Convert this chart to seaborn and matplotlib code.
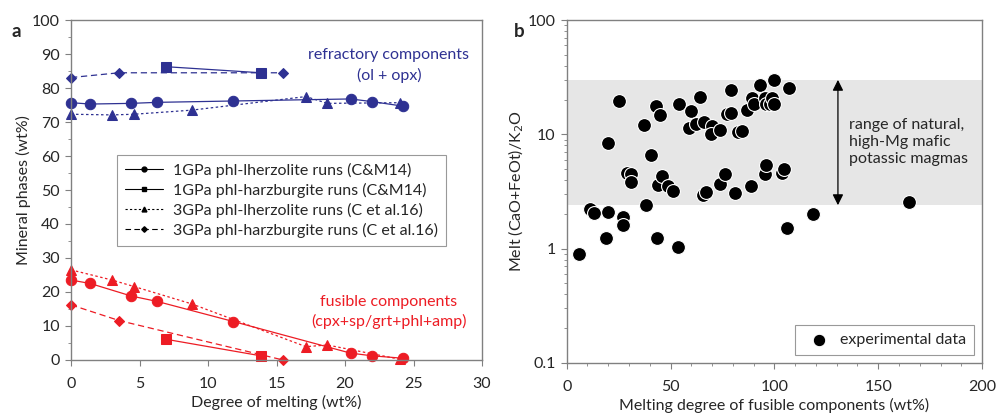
import numpy as np
import pandas as pd
import matplotlib
matplotlib.use("Agg")
import matplotlib.pyplot as plt
from matplotlib.lines import Line2D
from matplotlib.ticker import MultipleLocator, LogLocator, NullFormatter, FixedLocator
import seaborn as sns

# ---- panel a data: degree of melting (wt%) vs mineral phases (wt%)
lherz1_x = [0, 1.4, 4.4, 6.3, 11.85, 20.4, 22.0, 24.2]
lherz1_ref = [75.7, 75.3, 75.5, 75.8, 76.2, 76.8, 76.0, 74.7]
lherz1_fus = [23.5, 22.5, 18.8, 17.2, 11.3, 2.0, 1.2, 0.5]

harz1_x = [6.9, 13.87]
harz1_ref = [86.3, 84.5]
harz1_fus = [6.1, 1.2]

lherz3_x = [0, 3.0, 4.6, 8.8, 17.15, 18.7, 24.0]
lherz3_ref = [72.3, 72.1, 72.3, 73.5, 77.5, 75.5, 75.7]
lherz3_fus = [26.5, 23.5, 21.6, 16.5, 3.9, 4.4, 0.2]

harz3_x = [0, 3.5, 15.45]
harz3_ref = [83.1, 84.5, 84.5]
harz3_fus = [16.2, 11.6, 0.0]

# ---- panel b data: melting degree of fusible components vs (CaO+FeOt)/K2O
melt_deg = [5.9, 11, 13, 19.7, 18.8, 20, 25, 27, 27, 29, 31, 31, 37, 38, 40.5,
            43, 43.7, 44, 45, 46, 49, 51, 53.4, 54, 59, 60, 62.4, 64, 65.5, 66,
            67, 70, 69.4, 73.7, 73.7, 76, 77, 79, 79, 81, 82.4, 84.3, 86.7, 88.6,
            89, 90, 93, 95.4, 95.5, 96, 96, 98, 99, 99.8, 99.8, 103.6, 104.6,
            106, 107, 118.5, 164.8]
ratio = [0.89, 2.2, 2.05, 2.1, 1.25, 8.4, 19.6, 1.9, 1.6, 4.6, 4.5, 3.85, 12.1,
         2.4, 6.6, 17.8, 1.24, 3.6, 14.9, 4.35, 3.55, 3.2, 1.03, 18.5, 11.4, 16,
         12.2, 21.2, 2.95, 12.8, 3.15, 11.8, 10, 11, 3.7, 4.5, 15.1, 15.5, 24.5,
         3.05, 10.5, 10.7, 16.2, 3.5, 20.8, 18.3, 27, 21, 4.5, 5.4, 18.6, 18.5,
         21, 18.4, 30, 4.6, 5.0, 1.52, 25.6, 2.0, 2.55]

natural_range = [2.4, 30]

BLUE = "#2E3192"
RED = "#ED1C24"
GRID_GRAY = "#808080"
FS = 11.5

sns.set_style("white")
plt.rcParams['font.family'] = ['Lato', 'DejaVu Sans']
plt.rcParams['font.size'] = FS

fig = plt.figure(figsize=(9.96, 4.19), dpi=100)
ax1 = fig.add_axes([0.0713, 0.141, 0.4127, 0.811])
ax2 = fig.add_axes([0.569, 0.134, 0.417, 0.818])

# series spec: x, refractory, fusible, marker, markersize, linestyle
series = [
    (lherz1_x, lherz1_ref, lherz1_fus, 'o', 7.5, '-'),
    (harz1_x, harz1_ref, harz1_fus, 's', 6.5, '-'),
    (lherz3_x, lherz3_ref, lherz3_fus, '^', 7, (0, (2, 2))),
    (harz3_x, harz3_ref, harz3_fus, 'D', 5.5, (0, (5, 3))),
]
for xs, ref, fus, mk, ms, ls in series:
    for vals, col in ((ref, BLUE), (fus, RED)):
        sns.lineplot(x=xs, y=vals, ax=ax1, color=col, marker=mk, markersize=ms,
                     markeredgecolor=col, linestyle=ls, linewidth=0.9,
                     sort=False, legend=False, clip_on=False)

ax1.set_xlim(0, 30)
ax1.set_ylim(0, 100)
ax1.xaxis.set_major_locator(MultipleLocator(5))
ax1.yaxis.set_major_locator(MultipleLocator(10))
ax1.yaxis.set_minor_locator(MultipleLocator(5))
ax1.set_xlabel("Degree of melting (wt%)", fontsize=FS)
ax1.set_ylabel("Mineral phases (wt%)", fontsize=FS)

ax1.text(23.2, 89.7, "refractory components", color=BLUE, ha='center', va='center', fontsize=FS)
ax1.text(23.2, 83.8, "(ol + opx)", color=BLUE, ha='center', va='center', fontsize=FS)
ax1.text(23.2, 17.0, "fusible components", color=RED, ha='center', va='center', fontsize=FS)
ax1.text(23.2, 11.2, "(cpx+sp/grt+phl+amp)", color=RED, ha='center', va='center', fontsize=FS)

handles = [
    Line2D([], [], color='black', lw=0.8, ls='-', marker='o', ms=3.5),
    Line2D([], [], color='black', lw=0.8, ls='-', marker='s', ms=3.5),
    Line2D([], [], color='black', lw=0.8, ls=(0, (2, 2)), marker='^', ms=3.5),
    Line2D([], [], color='black', lw=0.8, ls=(0, (5, 3)), marker='D', ms=2.8),
]
labels = ["1GPa phl-lherzolite runs (C&M14)", "1GPa phl-harzburgite runs (C&M14)",
          "3GPa phl-lherzolite runs (C et al.16)", "3GPa phl-harzburgite runs (C et al.16)"]
leg = ax1.legend(handles, labels, loc='upper left', bbox_to_anchor=(0.112, 0.603),
                 borderaxespad=0, fontsize=FS, frameon=True, fancybox=False,
                 handlelength=2.4, borderpad=0.5, labelspacing=0.3, handletextpad=0.6)
leg.get_frame().set_edgecolor(GRID_GRAY)
leg.get_frame().set_linewidth(0.8)

# ---- panel b
ax2.axhspan(natural_range[0], natural_range[1], color="#E6E6E6", zorder=0, lw=0)
df_b = pd.DataFrame({"deg": melt_deg, "ratio": ratio})
sns.scatterplot(data=df_b, x="deg", y="ratio", ax=ax2, color='black', s=100,
                edgecolor='white', linewidth=0.8, zorder=3, label="experimental data")
ax2.set_yscale('log')
ax2.set_xlim(0, 200)
ax2.set_ylim(0.1, 100)
ax2.xaxis.set_major_locator(MultipleLocator(50))
ax2.xaxis.set_minor_locator(MultipleLocator(10))
ax2.yaxis.set_major_locator(FixedLocator([0.1, 1, 10, 100]))
ax2.yaxis.set_major_formatter(plt.FuncFormatter(lambda v, p: f"{v:g}"))
ax2.yaxis.set_minor_locator(LogLocator(base=10, subs=np.arange(2, 10)))
ax2.yaxis.set_minor_formatter(NullFormatter())
ax2.set_xlabel("Melting degree of fusible components (wt%)", fontsize=FS)
ax2.set_ylabel("Melt (CaO+FeOt)/K$_2$O", fontsize=FS)

ax2.annotate("", xy=(130.6, natural_range[1]), xytext=(130.6, natural_range[0]),
             arrowprops=dict(arrowstyle='<|-|>', color='black', lw=0.9,
                             mutation_scale=16, shrinkA=0, shrinkB=0))
ax2.text(136, 13.8, "range of natural,\nhigh-Mg mafic\npotassic magmas",
         ha='left', va='top', fontsize=FS, linespacing=1.25)
leg2 = ax2.legend(loc='lower right', fontsize=FS, frameon=True, fancybox=False,
                  handletextpad=0.3, borderpad=0.5, markerscale=0.9)
leg2.get_frame().set_edgecolor(GRID_GRAY)
leg2.get_frame().set_linewidth(0.8)

for ax in (ax1, ax2):
    for sp in ax.spines.values():
        sp.set_visible(True)
        sp.set_color(GRID_GRAY)
        sp.set_linewidth(1.0)
    ax.tick_params(which='both', direction='out', color=GRID_GRAY, labelsize=FS,
                   left=True, bottom=True)
    ax.tick_params(axis='y', which='both', pad=4)
    ax.tick_params(axis='x', which='both', pad=8)
    ax.tick_params(which='major', length=4)
    ax.tick_params(which='minor', length=2.5)
    ax.xaxis.labelpad = 3
    ax.yaxis.labelpad = 1

ax1.tick_params(axis='x', which='minor', bottom=False)

fig.text(0.012, 0.912, "a", fontsize=13.5, fontweight='bold')
fig.text(0.516, 0.912, "b", fontsize=13.5, fontweight='bold')

fig.savefig("out.png", dpi=100)
